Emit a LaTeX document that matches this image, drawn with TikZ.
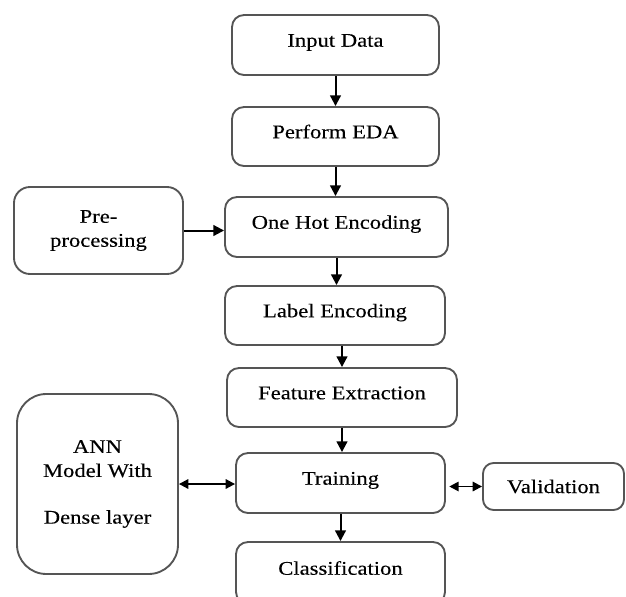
\documentclass[tikz,border=0pt]{standalone}
\usepackage{fontspec}
\setmainfont[FakeStretch=1.17,FakeBold=0.2]{Liberation Serif}
\usetikzlibrary{arrows.meta}
\definecolor{boxgray}{RGB}{85,85,85}
\begin{document}
\begin{tikzpicture}[x=0.75pt,y=-0.75pt,
  box/.style={draw=boxgray,line width=1.4pt,fill=white,rounded corners=9pt,
    inner sep=0pt,font=\fontsize{14.5}{18}\selectfont,align=center},
  oneline/.style={text height=0.6em,text depth=0.34em},
  wh/.style 2 args={minimum width={#1*0.75pt},minimum height={#2*0.75pt}},
  arr/.style={line width=1.5pt,-{Triangle[length=8pt,width=8pt]}},
  darr/.style={line width=1.4pt,{Triangle[length=7pt,width=7pt]}-{Triangle[length=7pt,width=7pt]}}]
  % page area
  \clip (0,0) rectangle (626,597);
  \fill[white] (0,0) rectangle (626,597);

  % main pipeline
  \node[box,oneline,wh={207}{60}] (inp) at (335.5,45) {Input Data};
  \node[box,oneline,wh={207}{59}] (eda) at (335.5,136.5) {Perform EDA};
  \node[box,oneline,wh={223}{60}] (oh)  at (336.5,227) {One Hot Encoding};
  \node[box,oneline,wh={220}{59}] (lab) at (335,315.5) {Label Encoding};
  \node[box,oneline,wh={230}{59}] (fe)  at (342,397.5) {Feature Extraction};
  \node[box,oneline,wh={209}{60}] (tr)  at (340.5,483) {Training};
  \node[box,oneline,wh={209}{62}] (cls) at (340.5,573) {Classification};

  % side boxes
  \node[box,wh={169}{87},rounded corners=12pt] (pre) at (98.5,230.5) {Pre-\\processing};
  \node[box,wh={161}{180},rounded corners=22pt] (ann) at (97.5,484)
    {ANN\\Model With\\[17pt]Dense layer};
  \node[box,wh={141}{47},rounded corners=8pt] (val) at (553.5,486.5) {Validation};

  % connectors
  \draw[arr] (inp.south) -- (inp.south |- eda.north);
  \draw[arr] (eda.south) -- (eda.south |- oh.north);
  \draw[arr] (oh.south) -- (oh.south |- lab.north);
  \draw[arr] (fe.north |- lab.south) -- (fe.north);
  \draw[arr] (fe.south) -- (fe.south |- tr.north);
  \draw[arr] (tr.south) -- (tr.south |- cls.north);
  \draw[arr] (pre.east) -- (pre.east -| oh.west);
  \draw[darr] (ann.east) -- (ann.east -| tr.west);
  \draw[darr,shorten <=2.5pt] (tr.east |- val.west) -- (val.west);
\end{tikzpicture}
\end{document}
